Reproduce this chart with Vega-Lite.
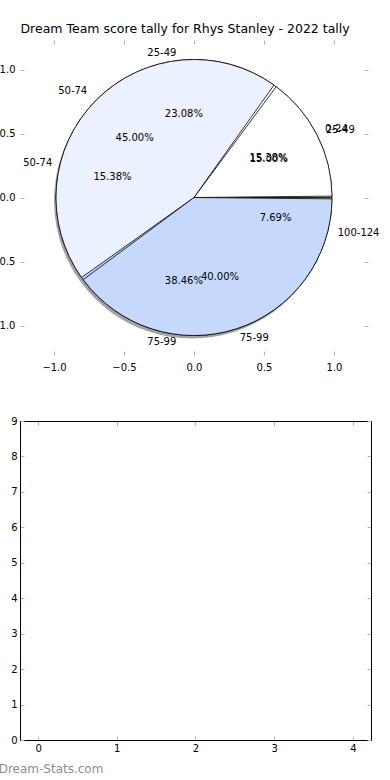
{
  "$schema": "https://vega.github.io/schema/vega-lite/v6.json",
  "padding": {"left": -10, "top": 23, "right": 0, "bottom": 0},
  "background": "white",
  "title": {"text": "Dream Team score tally for Rhys Stanley - 2022 tally", "fontSize": 12.5, "fontWeight": "normal", "font": "DejaVu Sans", "color": "black", "offset": 4, "anchor": "middle"},
  "data": {"values": [
    {"pie": "A", "i": 0, "band": "0-24", "games": 2, "share": 0.1538},
    {"pie": "A", "i": 1, "band": "25-49", "games": 3, "share": 0.2308},
    {"pie": "A", "i": 2, "band": "50-74", "games": 2, "share": 0.1538},
    {"pie": "A", "i": 3, "band": "75-99", "games": 5, "share": 0.3846},
    {"pie": "A", "i": 4, "band": "100-124", "games": 1, "share": 0.0769},
    {"pie": "B", "i": 0, "band": "25-49", "games": 3, "share": 0.15},
    {"pie": "B", "i": 1, "band": "50-74", "games": 9, "share": 0.45},
    {"pie": "B", "i": 2, "band": "75-99", "games": 8, "share": 0.40}
  ]},
  "config": {
    "font": "DejaVu Sans",
    "view": {"stroke": null},
    "axis": {"grid": false, "labelFont": "DejaVu Sans", "labelFontSize": 10, "labelColor": "black", "tickColor": "#b0b0b0", "tickSize": -4, "title": null}
  },
  "spacing": 66,
  "bounds": "flush",
  "vconcat": [
    {
      "width": 348,
      "height": 315,
      "layer": [
        {
          "mark": {"type": "point", "opacity": 0},
          "encoding": {
            "x": {"datum": 0, "type": "quantitative", "scale": {"domain": [-1.243, 1.243], "nice": false, "zero": false}, "axis": {"orient": "bottom", "values": [-1, -0.5, 0, 0.5, 1], "format": ".1f", "domain": false, "labelPadding": 11}},
            "y": {"datum": 0, "type": "quantitative", "scale": {"domain": [-1.227, 1.234], "nice": false, "zero": false}, "axis": {"orient": "left", "values": [-1, -0.5, 0, 0.5, 1], "format": ".1f", "domain": false, "labelPadding": 9}}
          }
        },
        {
          "mark": {"type": "point", "opacity": 0},
          "encoding": {
            "x": {"datum": 0, "type": "quantitative", "axis": {"orient": "top", "values": [-1, -0.5, 0, 0.5, 1], "labels": false, "domain": false}},
            "y": {"datum": 0, "type": "quantitative", "axis": {"orient": "right", "values": [-1, -0.5, 0, 0.5, 1], "labels": false, "domain": false}}
          }
        },
        {
          "transform": [{"filter": "datum.pie === 'B'"}],
          "mark": {"type": "arc", "radius": 138, "fill": "#666666", "opacity": 0.6, "xOffset": -2, "yOffset": 3},
          "encoding": {
            "theta": {"field": "share", "type": "quantitative", "stack": true, "scale": {"range": [1.5708, -4.7124]}},
            "order": {"field": "i"}
          }
        },
        {
          "transform": [{"filter": "datum.pie === 'A'"}],
          "mark": {"type": "arc", "radius": 138, "stroke": "black", "strokeWidth": 0.8},
          "encoding": {
            "theta": {"field": "share", "type": "quantitative", "stack": true},
            "order": {"field": "i"},
            "color": {"field": "band", "type": "nominal", "legend": null, "scale": {"domain": ["0-24", "25-49", "50-74", "75-99", "100-124"], "range": ["#ffffff", "#eaf0fd", "#dde8fc", "#b3d4fc", "#c8e68f"]}}
          }
        },
        {
          "transform": [{"filter": "datum.pie === 'B'"}],
          "mark": {"type": "arc", "radius": 138, "stroke": "black", "strokeWidth": 0.8, "padAngle": 0.02},
          "encoding": {
            "theta": {"field": "share", "type": "quantitative", "stack": true},
            "order": {"field": "i"},
            "color": {"field": "band", "type": "nominal", "legend": null, "scale": {"domain": ["25-49", "50-74", "75-99"], "range": ["#ffffff", "#ebf1fe", "#c6d9fd"]}}
          }
        },
        {
          "transform": [{"filter": "datum.pie === 'A'"}],
          "mark": {"type": "text", "radius": 148, "align": "left", "baseline": "middle", "fontSize": 10, "color": "black"},
          "encoding": {
            "theta": {"field": "share", "type": "quantitative", "stack": true},
            "order": {"field": "i"},
            "detail": {"field": "band"},
            "text": {"condition": {"test": "datum.band === '0-24' || datum.band === '100-124'", "field": "band"}, "value": ""}
          }
        },
        {
          "transform": [{"filter": "datum.pie === 'A'"}],
          "mark": {"type": "text", "radius": 146, "align": "right", "baseline": "middle", "fontSize": 10, "color": "black"},
          "encoding": {
            "theta": {"field": "share", "type": "quantitative", "stack": true},
            "order": {"field": "i"},
            "detail": {"field": "band"},
            "text": {"condition": {"test": "datum.band !== '0-24' && datum.band !== '100-124'", "field": "band"}, "value": ""}
          }
        },
        {
          "transform": [{"filter": "datum.pie === 'B'"}],
          "mark": {"type": "text", "radius": 148, "align": "left", "baseline": "middle", "fontSize": 10, "color": "black"},
          "encoding": {
            "theta": {"field": "share", "type": "quantitative", "stack": true},
            "order": {"field": "i"},
            "detail": {"field": "band"},
            "text": {"condition": {"test": "datum.band !== '50-74'", "field": "band"}, "value": ""}
          }
        },
        {
          "transform": [{"filter": "datum.pie === 'B'"}],
          "mark": {"type": "text", "radius": 151, "align": "right", "baseline": "middle", "fontSize": 10, "color": "black"},
          "encoding": {
            "theta": {"field": "share", "type": "quantitative", "stack": true},
            "order": {"field": "i"},
            "detail": {"field": "band"},
            "text": {"condition": {"test": "datum.band === '50-74'", "field": "band"}, "value": ""}
          }
        },
        {
          "transform": [{"filter": "datum.pie === 'A'"}],
          "mark": {"type": "text", "radius": 84, "align": "center", "baseline": "middle", "fontSize": 10, "color": "black"},
          "encoding": {
            "theta": {"field": "share", "type": "quantitative", "stack": true},
            "order": {"field": "i"},
            "detail": {"field": "band"},
            "text": {"field": "share", "type": "quantitative", "format": ".2%"}
          }
        },
        {
          "transform": [{"filter": "datum.pie === 'B'"}],
          "mark": {"type": "text", "radius": 84, "align": "center", "baseline": "middle", "fontSize": 10, "color": "black"},
          "encoding": {
            "theta": {"field": "share", "type": "quantitative", "stack": true},
            "order": {"field": "i"},
            "detail": {"field": "band"},
            "text": {"field": "share", "type": "quantitative", "format": ".2%"}
          }
        }
      ],
      "resolve": {"axis": {"x": "independent", "y": "independent"}, "scale": {"color": "independent"}}
    },
    {
      "width": 351,
      "height": 319,
      "title": {"text": "Dream-Stats.com", "orient": "bottom", "anchor": "start", "dx": -12, "offset": 11, "fontSize": 12, "fontWeight": "normal", "color": "#8c8c8c", "font": "DejaVu Sans"},
      "layer": [
        {
          "mark": {"type": "point", "opacity": 0},
          "encoding": {
            "x": {"datum": 0, "type": "quantitative", "scale": {"domain": [-0.23, 4.23], "nice": false, "zero": false}, "axis": {"orient": "bottom", "values": [0, 1, 2, 3, 4], "format": "d", "domain": true, "domainColor": "black", "labelPadding": 7}},
            "y": {"datum": 0, "type": "quantitative", "scale": {"domain": [0, 9], "nice": false}, "axis": {"orient": "left", "values": [0, 1, 2, 3, 4, 5, 6, 7, 8, 9], "format": "d", "domain": true, "domainColor": "black", "labelPadding": 7}}
          }
        },
        {
          "mark": {"type": "point", "opacity": 0},
          "encoding": {
            "x": {"datum": 0, "type": "quantitative", "axis": {"orient": "top", "values": [0, 1, 2, 3, 4], "labels": false, "domain": true, "domainColor": "black"}},
            "y": {"datum": 0, "type": "quantitative", "axis": {"orient": "right", "values": [0, 1, 2, 3, 4, 5, 6, 7, 8, 9], "labels": false, "domain": true, "domainColor": "black"}}
          }
        }
      ],
      "resolve": {"axis": {"x": "independent", "y": "independent"}}
    }
  ]
}
